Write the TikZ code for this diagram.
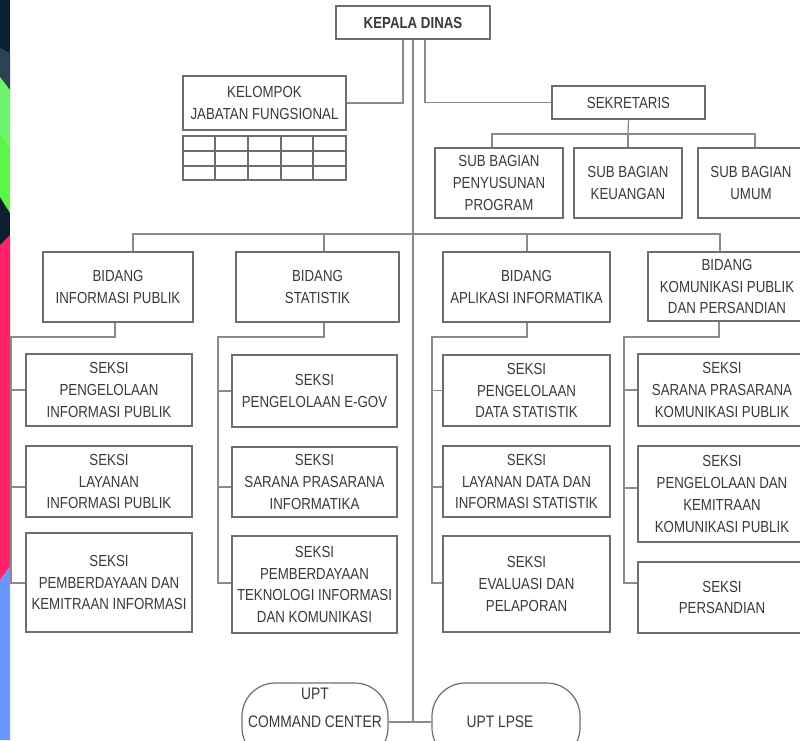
\documentclass[tikz,border=0pt]{standalone}
\usepackage{fontspec}
\setmainfont{Liberation Sans}[FakeStretch=0.83]
\usetikzlibrary{calc}
\definecolor{txt}{HTML}{3A3A3A}
\definecolor{bdr}{HTML}{6E6E6E}
\definecolor{lnk}{HTML}{8A8A8A}
\definecolor{snavy}{HTML}{0C1F2E}
\definecolor{sgray}{HTML}{2D4253}
\definecolor{sgreenA}{HTML}{6FF56B}
\definecolor{sgreenB}{HTML}{5CF64A}
\definecolor{spink}{HTML}{FF2266}
\definecolor{sblue}{HTML}{6A97FF}
\begin{document}
\begin{tikzpicture}[x=0.75pt,y=-0.75pt,
  bx/.style 2 args={draw=bdr, line width=0.9pt, fill=white,
    minimum width=#1*0.75pt, minimum height=#2*0.75pt, inner sep=0pt,
    align=center, text=txt, font=\fontsize{12}{16.3}\selectfont},
  lbl/.style={inner sep=0pt, align=center, text=txt, font=\fontsize{12.5}{16.3}\selectfont},
  cn/.style={draw=lnk, line width=0.9pt},
  grid/.style={draw=bdr, line width=0.8pt}]
\clip (0,0) rectangle (800,740);
\fill[white] (0,0) rectangle (800,740);
% left decorative stripe
\fill[snavy] (0,0) rectangle (10,250);
\fill[sgray] (0,48) -- (10,53) -- (10,90) -- (0,77) -- cycle;
\fill[sgreenA] (0,77) -- (10,90) -- (10,150) -- (0,135) -- cycle;
\fill[sgreenB] (0,135) -- (10,150) -- (10,213) -- (0,197) -- cycle;
\fill[spink] (0,245) -- (10,235) -- (10,567) -- (0,580) -- cycle;
\fill[sblue] (0,580) -- (10,567) -- (10,740) -- (0,740) -- cycle;

% top level
\node[bx={154}{33}, font=\bfseries\fontsize{12}{16.3}\selectfont] (kd) at (413,22.5) {KEPALA DINAS};
\node[bx={163}{54}] (kjf) at (264.5,103) {KELOMPOK\\JABATAN FUNGSIONAL};
\node[bx={153}{33}] (sek) at (628.5,102.5) {SEKRETARIS};
\node[bx={128}{70}] (sb1) at (499,183) {SUB BAGIAN\\PENYUSUNAN\\PROGRAM};
\node[bx={108}{70}] (sb2) at (628,183) {SUB BAGIAN\\KEUANGAN};
\node[bx={106}{70}] (sb3) at (751,183) {SUB BAGIAN\\UMUM};

% table under kelompok jabatan fungsional
\draw[grid] (183,136) rectangle (346,180);
\foreach \yy in {151,166} \draw[grid] (183,\yy) -- (346,\yy);
\foreach \xx in {215,248,281,313} \draw[grid] (\xx,136) -- (\xx,180);

% bidang
\node[bx={150}{70}] (b1) at (118,287) {BIDANG\\INFORMASI PUBLIK};
\node[bx={163}{70}] (b2) at (317.5,287) {BIDANG\\STATISTIK};
\node[bx={167}{70}] (b3) at (526.5,287) {BIDANG\\APLIKASI INFORMATIKA};
\node[bx={158}{69}] (b4) at (727,286.5) {BIDANG\\KOMUNIKASI PUBLIK\\DAN PERSANDIAN};

% seksi column 1
\node[bx={166}{72}] (s11) at (109,390) {SEKSI\\PENGELOLAAN\\INFORMASI PUBLIK};
\node[bx={166}{71}] (s12) at (109,481.5) {SEKSI\\LAYANAN\\INFORMASI PUBLIK};
\node[bx={166}{99}] (s13) at (109,582.5) {SEKSI\\PEMBERDAYAAN DAN\\KEMITRAAN INFORMASI};
% column 2
\node[bx={165}{72}] (s21) at (314.5,391) {SEKSI\\PENGELOLAAN E-GOV};
\node[bx={165}{70}] (s22) at (314.5,482) {SEKSI\\SARANA PRASARANA\\INFORMATIKA};
\node[bx={165}{97}] (s23) at (314.5,584.5) {SEKSI\\PEMBERDAYAAN\\TEKNOLOGI INFORMASI\\DAN KOMUNIKASI};
% column 3
\node[bx={167}{71}] (s31) at (526.5,390.5) {SEKSI\\PENGELOLAAN\\DATA STATISTIK};
\node[bx={167}{71}] (s32) at (526.5,481.5) {SEKSI\\LAYANAN DATA DAN\\INFORMASI STATISTIK};
\node[bx={167}{96}] (s33) at (526.5,584) {SEKSI\\EVALUASI DAN\\PELAPORAN};
% column 4
\node[bx={168}{72}] (s41) at (722,390) {SEKSI\\SARANA PRASARANA\\KOMUNIKASI PUBLIK};
\node[bx={168}{96}] (s42) at (722,494) {SEKSI\\PENGELOLAAN DAN\\KEMITRAAN\\KOMUNIKASI PUBLIK};
\node[bx={168}{71}] (s43) at (722,597.5) {SEKSI\\PERSANDIAN};

% UPT
\node[bx={146}{78}, rounded corners=25pt] (upt1) at (315,722) {};
\node[lbl] (upt1t) at (315,708) {UPT\\[5pt]COMMAND CENTER};
\node[bx={148}{78}, rounded corners=25pt] (upt2) at (506,722) {};
\node[lbl] (upt2t) at (500,722) {UPT LPSE};

% connectors from kepala dinas
\coordinate (m1) at (413,722);
\draw[cn] (kd.south) -- (m1);
\draw[cn] (upt1.east) -- (upt2.west);
\draw[cn] ($(kd.south)+(-10,0)$) |- (kjf.east);
\draw[cn] ($(kd.south)+(12,0)$) |- (sek.west);

% sekretaris
\coordinate (sj) at (628,134);
\draw[cn] (sek.south) -- (sj);
\draw[cn] ($(sb1.north)+(-7,0)$) |- (sj) -| ($(sb3.north)+(4,0)$);
\draw[cn] (sj) -- (sb2.north);

% bidang bus
\coordinate (bj) at (413,234);
\draw[cn] ($(b1.north)+(15,0)$) |- (bj) -| ($(b4.north)+(-7,0)$);
\draw[cn] ($(b2.north)+(6.5,0)$) -- ++(0,-18);
\draw[cn] ($(b3.north)+(0.5,0)$) -- ++(0,-18);

% column 1 spine
\coordinate (c1t) at (11,337); \coordinate (c1m) at (11,487); \coordinate (c1e) at (11,583);
\draw[cn] ($(b1.south)+(-3,0)$) |- (c1t) -- (c1e) -- (s13.west |- c1e);
\draw[cn] (c1t |- s11.west) -- (s11.west);
\draw[cn] (c1m) -- (s12.west |- c1m);
% column 2 spine
\coordinate (c2t) at (218,337); \coordinate (c2m) at (218,487); \coordinate (c2e) at (218,583);
\draw[cn] ($(b2.south)+(6.5,0)$) |- (c2t) -- (c2e) -- (s23.west |- c2e);
\draw[cn] (c2t |- s21.west) -- (s21.west);
\draw[cn] (c2m) -- (s22.west |- c2m);
% column 3 spine
\coordinate (c3t) at (432,337); \coordinate (c3m) at (432,487); \coordinate (c3e) at (432,583);
\draw[cn] ($(b3.south)+(0.5,0)$) |- (c3t) -- (c3e) -- (s33.west |- c3e);
\draw[cn] (c3t |- s31.west) -- (s31.west);
\draw[cn] (c3m) -- (s32.west |- c3m);
% column 4 spine
\coordinate (c4t) at (624,337); \coordinate (c4m) at (624,488); \coordinate (c4e) at (624,583);
\draw[cn] ($(b4.south)+(-8,0)$) |- (c4t) -- (c4e) -- (s43.west |- c4e);
\draw[cn] (c4t |- s41.west) -- (s41.west);
\draw[cn] (c4m) -- (s42.west |- c4m);
\end{tikzpicture}
\end{document}
